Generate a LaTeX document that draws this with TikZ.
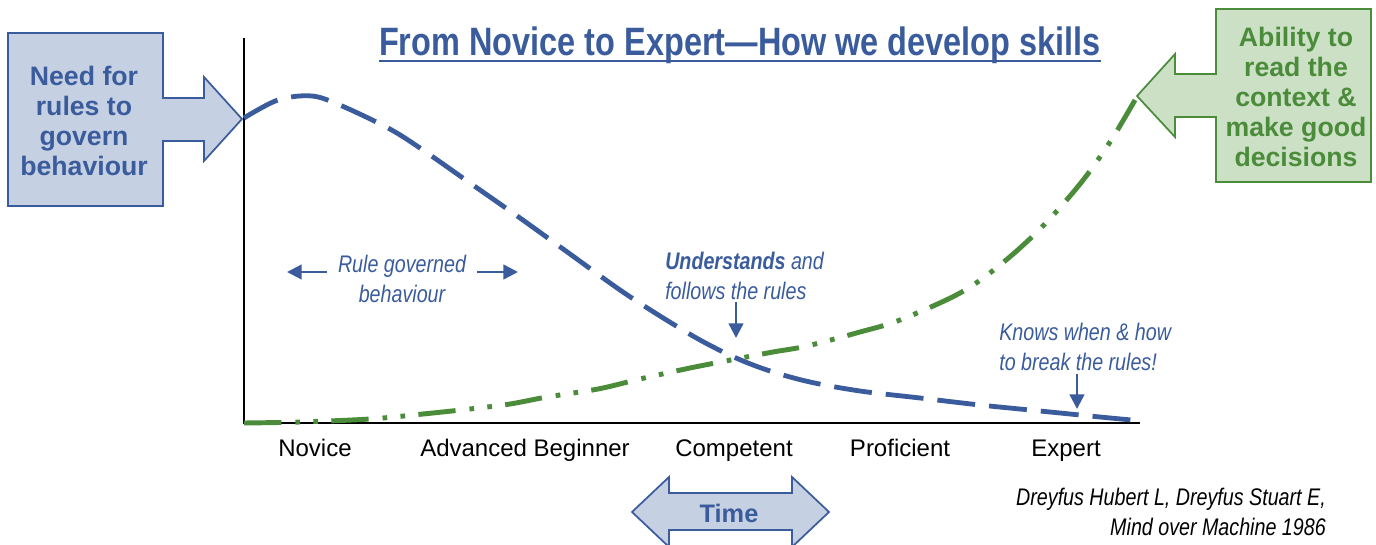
\documentclass[tikz,border=0pt]{standalone}
\usepackage{fontspec}
\setmainfont{Liberation Sans}
\newfontfamily\narrowfont{Liberation Sans}[FakeStretch=0.82]
\usetikzlibrary{arrows.meta}

\definecolor{skillblue}{HTML}{3A5C9C}
\definecolor{bluefill}{HTML}{C5D0E2}
\definecolor{skillgreen}{HTML}{4A8C3A}
\definecolor{greenfill}{HTML}{CCE0C5}

\tikzset{
  axisline/.style={line width=1.5pt, black},
  bluebox/.style={draw=skillblue, fill=bluefill, line width=1.3pt, line join=miter},
  greenbox/.style={draw=skillgreen, fill=greenfill, line width=1.3pt, line join=miter},
  boxtext/.style={font=\fontsize{20}{22.5}\selectfont\bfseries, align=center},
  ruletrend/.style={skillblue, line width=3.6pt,
    dash pattern=on 28.5pt off 10.5pt},
  contexttrend/.style={skillgreen, line width=3.7pt,
    dash pattern=on 28pt off 10.5pt on 3.5pt off 10pt on 3.5pt off 10pt},
  stagelabel/.style={font=\fontsize{18}{20}\selectfont, anchor=base},
  annot/.style={text=skillblue, font=\narrowfont\itshape\fontsize{18}{20}\selectfont, inner sep=0pt},
  annarrow/.style={skillblue, line width=1.8pt, -{Triangle[length=11pt,width=11pt]}},
}

\begin{document}
\begin{tikzpicture}[x=0.75pt, y=-0.75pt]
\useasboundingbox (0,0) rectangle (1376,545);

% axes
\coordinate (origin) at (244,423);
\coordinate (ytop) at (244,38);
\coordinate (xend) at (1140,423);
\draw[axisline] (ytop) -- (origin) -- (xend);

% title
\node[inner sep=0pt, text=skillblue, font=\narrowfont\bfseries\fontsize{29.7}{31}\selectfont, anchor=base]
  (title) at (740,56) {From Novice to Expert—How we develop skills};
\draw[skillblue, line width=1.6pt] ([yshift=-4pt]title.base west) -- ([yshift=-4pt]title.base east);

% left arrow box: need for rules
\draw[bluebox] (8,33) -- (163,33) -- (163,98) -- (204,98) -- (204,77) -- (242,119)
  -- (204,161) -- (204,141) -- (163,141) -- (163,206) -- (8,206) -- cycle;
\node[boxtext, text=skillblue] (needrules) at (84,121) {Need for\\rules to\\govern\\behaviour};

% right arrow box: reading the context
\draw[greenbox] (1216,9) -- (1371,9) -- (1371,182) -- (1216,182) -- (1216,117) -- (1175,117)
  -- (1175,137) -- (1137,96) -- (1175,54) -- (1175,74) -- (1216,74) -- cycle;
\node[boxtext, text=skillgreen] (ability) at (1296,97) {Ability to\\read the\\context \&\\make good\\decisions};

% rule-governed behaviour curve
\draw[ruletrend] plot[smooth, tension=0.55] coordinates {
  (244,118) (278,100) (312,96) (342,106) (388,128) (420,148) (470,183) (520,218)
  (570,254) (620,290) (660,316) (700,340) (736,358) (770,371) (810,382)
  (860,391) (920,398) (980,405) (1040,411) (1100,417) (1142,421)};

% context-reading curve
\draw[contexttrend] plot[smooth, tension=0.55] coordinates {
  (244,423) (300,422) (370,419) (423,414) (470,409) (510,404) (547,397) (598,389)
  (640,379) (690,368) (736,359) (773,352) (807,346) (860,332) (900,320)
  (960,293) (1000,265) (1040,229) (1080,184) (1110,142) (1135,100)};

% stage labels
\node[stagelabel] (novice) at (315,456) {Novice};
\node[stagelabel] (advanced) at (525,456) {Advanced Beginner};
\node[stagelabel] (competent) at (734,456) {Competent};
\node[stagelabel] (proficient) at (900,456) {Proficient};
\node[stagelabel] (expert) at (1066,456) {Expert};

% time arrow
\draw[bluebox] (632,512) -- (669,477) -- (669,493) -- (792,493) -- (792,477) -- (829,512)
  -- (792,547) -- (792,530) -- (669,530) -- (669,547) -- cycle;
\node[text=skillblue, font=\fontsize{19}{20}\selectfont\bfseries] (time) at (729,513) {Time};

% annotations
\node[annot, align=center] (rulegov) at (402,279) {Rule governed\\[2pt]behaviour};
\coordinate (rgl1) at (327,272); \coordinate (rgl2) at (287,272);
\coordinate (rgr1) at (477,272); \coordinate (rgr2) at (518,272);
\draw[annarrow] (rgl1) -- (rgl2);
\draw[annarrow] (rgr1) -- (rgr2);

\node[annot, align=left, anchor=west] (understands) at (665,276)
  {{\bfseries Understands} and\\[2pt]follows the rules};
\coordinate (und1) at (736,302); \coordinate (und2) at (736,338);
\draw[annarrow] (und1) -- (und2);

\node[annot, align=left, anchor=west] (knows) at (999,347)
  {Knows when \& how\\[2pt]to break the rules!};
\coordinate (kn1) at (1077,374); \coordinate (kn2) at (1077,409);
\draw[annarrow] (kn1) -- (kn2);

% reference
\node[annot, text=black, align=right, anchor=east] (source) at (1326,512)
  {Dreyfus Hubert L, Dreyfus Stuart E,\\[2pt]Mind over Machine 1986};
\end{tikzpicture}
\end{document}
